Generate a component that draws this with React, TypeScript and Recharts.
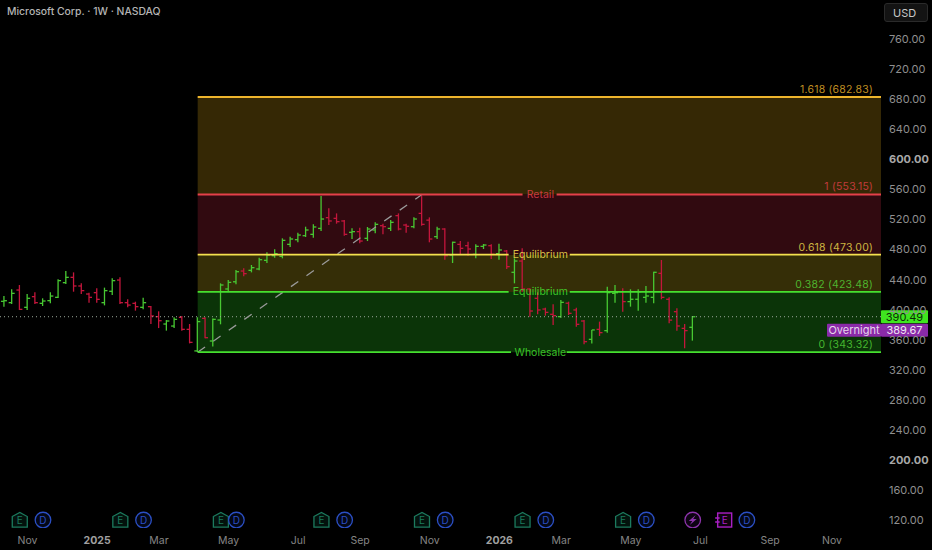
import React from 'react';
import { ComposedChart, Bar, Scatter, XAxis, YAxis, ReferenceArea, ReferenceLine, ReferenceDot } from 'recharts';

const opens = [411, 409.2, 426, 403, 417.2, 408.3, 411.9, 416.3, 435.8, 442.9, 431.4, 420.7, 422.5, 409.2, 424.3, 439.3, 409.2, 408.3, 403, 403.9, 390.6, 380.8, 378.1, 389.7, 373.7, 345, 388.3, 358.2, 386.1, 427.4, 437, 451.3, 452.2, 454, 465.5, 471.7, 470.8, 486.8, 493, 498.3, 500.1, 508, 522.3, 521.4, 517.9, 502.8, 503.7, 494.8, 505.9, 511.6, 508, 525, 512.5, 510.3, 528, 519, 497, 507.2, 472.6, 486.8, 485, 473.5, 484.1, 485, 474.4, 477.9, 449.6, 464.6, 427.4, 415, 400.7, 393.7, 390.6, 408.5, 399.5, 384.8, 360.4, 373.7, 372, 421.6, 423.9, 410.6, 413.7, 416.3, 416.3, 448.2, 413.7, 397.2, 375, 376.4];
const highs = [418.1, 427, 432.7, 420.7, 423, 415, 423, 440.2, 451.3, 449.5, 434.9, 422.5, 428.3, 429.2, 441.6, 442.9, 413.6, 410.5, 415.8, 404.8, 397.7, 386.1, 389.7, 391.5, 380.8, 389.7, 389.7, 388.3, 434.9, 439.4, 452.7, 454.9, 459.3, 469, 476.2, 480.2, 494.8, 497, 502.3, 510.3, 513.4, 551, 534.7, 528, 519.2, 508.1, 509, 509.9, 516.1, 514.3, 519.2, 528, 514.3, 522.7, 551, 522.7, 510.3, 508.1, 490.4, 491.2, 490.4, 486.8, 487.3, 486.8, 487.7, 479.3, 468.2, 481.5, 428.3, 423, 402.5, 407, 412.7, 410.5, 402.5, 386.1, 372.9, 384, 430.5, 432.7, 428.3, 427, 427, 431.4, 450.5, 466, 416.3, 401.7, 380.8, 391.5];
const lows = [403.9, 407.4, 399.4, 399.4, 407.4, 404.8, 408.3, 415.4, 434, 423.8, 420.7, 409.2, 409.2, 405.6, 419.4, 407.4, 403, 398.6, 400.3, 380.8, 375.4, 372, 375.4, 372, 355, 343.6, 361.7, 351, 380.4, 424.7, 433.6, 444.2, 449.5, 452.2, 462, 469, 468.2, 483.3, 489.5, 496.6, 495.7, 504.5, 512.5, 514.3, 498.3, 493.9, 488.1, 491.2, 501.4, 500.1, 504.5, 505.4, 502.3, 508.1, 511.6, 489.5, 493.9, 466.4, 462, 472.6, 471.7, 468.2, 480.6, 467.3, 466.4, 454, 434.9, 423.8, 390.6, 393.7, 391.9, 379.5, 389.2, 392.8, 377.3, 353.8, 355, 364.9, 369.3, 409.2, 397.2, 403.9, 398.6, 409.2, 408.3, 413.7, 381.7, 372, 348.5, 358.7];
const closes = [411.8, 421.6, 400.3, 415, 409.2, 411.4, 418, 438.5, 442.9, 431.4, 425.2, 416.3, 413.6, 425.2, 438.5, 409.2, 406, 403.9, 409.2, 391.5, 385.2, 384.8, 387, 373.7, 356.4, 384, 362.6, 387, 432.7, 436.2, 450.4, 447.8, 455.8, 466.4, 472.6, 474.4, 492.1, 493.9, 499.2, 505.9, 509.9, 520.5, 517.9, 517, 500.1, 503.7, 491.2, 507.2, 513.4, 510.3, 516.1, 507.2, 510.8, 520.5, 513.4, 493.9, 507.2, 471.7, 489.5, 481.5, 480.6, 484.1, 485.9, 473.5, 479.3, 457.1, 464.6, 427.4, 398.1, 399.5, 396.3, 391.9, 409.6, 395, 380.4, 357.3, 372.9, 369.3, 422.5, 422.5, 410.6, 413.7, 423.9, 418.1, 449.6, 416.3, 386, 378.2, 372, 390.49];

const priceTicks = [120, 160, 200, 240, 280, 320, 360, 400, 440, 480, 520, 560, 600, 640, 680, 720, 760];
const boldPrices = [200, 600];
const timeTicks = [3, 12, 20, 29, 38, 46, 55, 64, 72, 81, 90, 99, 107];
const timeLabels = ['Nov', '2025', 'Mar', 'May', 'Jul', 'Sep', 'Nov', '2026', 'Mar', 'May', 'Jul', 'Sep', 'Nov'];
const boldTimes = ['2025', '2026'];

const earningsWeeks = [2, 15, 28, 41, 54, 67, 80];
const dividendWeeks = [5, 18, 30, 44, 57, 70, 83, 96];
const splitWeeks = [89];
const upcomingEarningsWeeks = [93];

const FIB_START = 25;
const X_MIN = -0.556;
const X_MAX = 113.34;
const MARKER_PRICE = 120;
const LAST_PRICE = 390.49;

const FONT = 'Inter, Roboto, sans-serif';
const UP = '#48c832';
const DOWN = '#c4163c';

const bars = opens.map((open, i) => ({
  i,
  open,
  high: highs[i],
  low: lows[i],
  close: closes[i],
  range: [lows[i], highs[i]],
}));

const OhlcBar = (props: any) => {
  const { x, y, width, height, payload } = props;
  const cx = x + width / 2;
  const span = payload.high - payload.low;
  const openY = y + ((payload.high - payload.open) / span) * height;
  const closeY = y + ((payload.high - payload.close) / span) * height;
  const color = payload.close >= payload.open ? UP : DOWN;
  return (
    <g stroke={color} strokeWidth={1.3}>
      <line x1={cx} x2={cx} y1={y} y2={y + height} />
      <line x1={cx - 3} x2={cx} y1={openY} y2={openY} />
      <line x1={cx} x2={cx + 3} y1={closeY} y2={closeY} />
    </g>
  );
};

const markerLetter = (cx: number, cy: number, letter: string, color: string) => (
  <text x={cx} y={cy + 3.5} textAnchor="middle" fontSize={10} fontFamily={FONT} fill={color}>{letter}</text>
);

const EarningsMark = ({ cx, cy }: any) => (
  <g>
    <path
      d={`M${cx - 7.5} ${cy - 3.5} L${cx} ${cy - 7.5} L${cx + 7.5} ${cy - 3.5} V${cy + 7} H${cx - 7.5} Z`}
      fill="#03120d"
      stroke="#1c7a5e"
      strokeWidth={1.3}
    />
    {markerLetter(cx, cy + 0.5, 'E', '#1c7a5e')}
  </g>
);

const DividendMark = ({ cx, cy }: any) => (
  <g>
    <circle cx={cx} cy={cy} r={7.8} fill="#040816" stroke="#2b4fc4" strokeWidth={1.3} />
    {markerLetter(cx, cy, 'D', '#2b4fc4')}
  </g>
);

const SplitMark = ({ cx, cy }: any) => (
  <g>
    <circle cx={cx} cy={cy} r={7.8} fill="#0d0412" stroke="#8d34ab" strokeWidth={1.3} />
    <path d={`M${cx + 3} ${cy - 5} L${cx - 4} ${cy + 1} H${cx - 0.5} L${cx - 3} ${cy + 5} L${cx + 4} ${cy - 1} H${cx + 0.5} Z`} fill="#8d34ab" />
  </g>
);

const UpcomingEarningsMark = ({ cx, cy }: any) => (
  <g>
    <rect x={cx - 6} y={cy - 7} width={14} height={14} fill="#10030f" stroke="#a91fc4" strokeWidth={1.4} />
    <path d={`M${cx - 8.5} ${cy - 2} H${cx - 4} M${cx - 8.5} ${cy + 2} H${cx - 4}`} stroke="#a91fc4" strokeWidth={1.4} />
    {markerLetter(cx + 1, cy, 'E', '#a91fc4')}
  </g>
);

const PriceTick = ({ x, y, payload }: any) => (
  <text
    x={x}
    y={y + 4}
    textAnchor="start"
    fontSize={11}
    fontFamily={FONT}
    fontWeight={boldPrices.includes(payload.value) ? 700 : 400}
    fill={boldPrices.includes(payload.value) ? '#a8a8a8' : '#8f8f8f'}
  >
    {payload.value.toFixed(2)}
  </text>
);

const TimeTick = ({ x, y, payload }: any) => {
  const label = timeLabels[timeTicks.indexOf(payload.value)];
  const bold = boldTimes.includes(label);
  return (
    <text x={x} y={y + 8} textAnchor="middle" fontSize={10.5} fontFamily={FONT} fontWeight={bold ? 700 : 400} fill={bold ? '#a0a0a0' : '#858585'}>
      {label}
    </text>
  );
};

const FibSide = (level: number, color: string, text: string) => (
  <ReferenceDot
    key={text}
    x={X_MAX}
    y={level}
    r={0}
    shape={({ cx, cy }: any) => (
      <text x={cx - 8} y={cy - 4} textAnchor="end" fontSize={10.5} fontFamily={FONT} fill={color} fillOpacity={0.8} letterSpacing={0.2}>
        {text}
      </text>
    )}
  />
);

const FibCenter = (level: number, color: string, text: string, from: number, to: number) => [
  <ReferenceLine key={text + level + 'a'} segment={[{ x: FIB_START, y: level }, { x: from, y: level }]} stroke={color} strokeWidth={1.8} />,
  <ReferenceLine key={text + level + 'b'} segment={[{ x: to, y: level }, { x: X_MAX, y: level }]} stroke={color} strokeWidth={1.8} />,
  <ReferenceDot
    key={text + level + 'c'}
    x={69.3}
    y={level}
    r={0}
    shape={({ cx, cy }: any) => (
      <text x={cx} y={cy + 3.5} textAnchor="middle" fontSize={10.5} fontFamily={FONT} fill={color} fillOpacity={0.85}>
        {text}
      </text>
    )}
  />,
];

const PriceTag = ({ cx, cy }: any) => (
  <g fontFamily={FONT} fontSize={11}>
    <rect x={cx} y={cy - 6.5} width={47} height={13} rx={1} fill="#3fe51f" />
    <text x={cx + 23.5} y={cy + 4} textAnchor="middle" fill="#0b2a06">390.49</text>
    <rect x={cx - 54} y={cy + 7} width={54} height={13} rx={1} fill="#8a2aa8" />
    <text x={cx - 27} y={cy + 17} textAnchor="middle" fill="#e6d6ec">Overnight</text>
    <rect x={cx} y={cy + 7} width={47} height={13} rx={1} fill="#8a2aa8" />
    <text x={cx + 23.5} y={cy + 17} textAnchor="middle" fill="#f0e4f4">389.67</text>
  </g>
);

export default function App() {
  return (
    <div style={{ position: 'fixed', left: 0, top: 0, width: 932, height: 550, background: '#000', overflow: 'hidden' }}>
      <ComposedChart width={932} height={550} data={bars} margin={{ top: 0, right: 0, bottom: 0, left: 0 }}>
        <XAxis
          dataKey="i"
          type="number"
          domain={[X_MIN, X_MAX]}
          allowDataOverflow
          ticks={timeTicks}
          interval={0}
          height={22}
          axisLine={false}
          tickLine={false}
          tick={TimeTick}
        />
        <YAxis
          orientation="right"
          type="number"
          domain={[109.4, 811.9]}
          allowDataOverflow
          ticks={priceTicks}
          interval={0}
          width={51}
          axisLine={false}
          tickLine={false}
          tick={PriceTick}
        />

        <ReferenceArea x1={FIB_START} x2={X_MAX} y1={343.32} y2={423.48} fill="#0b3408" fillOpacity={1} stroke="none" />
        <ReferenceArea x1={FIB_START} x2={X_MAX} y1={423.48} y2={473} fill="#352e07" fillOpacity={1} stroke="none" />
        <ReferenceArea x1={FIB_START} x2={X_MAX} y1={473} y2={553.15} fill="#310a10" fillOpacity={1} stroke="none" />
        <ReferenceArea x1={FIB_START} x2={X_MAX} y1={553.15} y2={682.83} fill="#352805" fillOpacity={1} stroke="none" />

        <ReferenceLine
          segment={[{ x: X_MIN, y: LAST_PRICE }, { x: X_MAX, y: LAST_PRICE }]}
          stroke="#9aa89a"
          strokeDasharray="1 3"
        />
        <ReferenceLine
          segment={[{ x: FIB_START, y: 343.32 }, { x: 54, y: 553.15 }]}
          stroke="#9a9a9a"
          strokeWidth={1.3}
          strokeDasharray="9 10"
        />
        <ReferenceLine segment={[{ x: FIB_START, y: 682.83 }, { x: X_MAX, y: 682.83 }]} stroke="#eeb52c" strokeWidth={1.8} />

        {FibCenter(553.15, '#e5404a', 'Retail', 67, 71.4)}
        {FibCenter(473, '#f5e14f', 'Equilibrium', 65.2, 73.1)}
        {FibCenter(423.48, '#46e02f', 'Equilibrium', 65.2, 73.1)}
        {FibCenter(343.32, '#46e02f', 'Wholesale', 65.5, 72.7)}

        {FibSide(682.83, '#eeb52c', '1.618 (682.83)')}
        {FibSide(553.15, '#e5404a', '1 (553.15)')}
        {FibSide(473, '#f5e14f', '0.618 (473.00)')}
        {FibSide(423.48, '#56d83a', '0.382 (423.48)')}
        {FibSide(343.32, '#56d83a', '0 (343.32)')}

        <Bar dataKey="range" barSize={7} shape={OhlcBar} isAnimationActive={false} />

        <Scatter data={earningsWeeks.map(i => ({ i, y: MARKER_PRICE }))} dataKey="y" shape={EarningsMark} isAnimationActive={false} />
        <Scatter data={dividendWeeks.map(i => ({ i, y: MARKER_PRICE }))} dataKey="y" shape={DividendMark} isAnimationActive={false} />
        <Scatter data={splitWeeks.map(i => ({ i, y: MARKER_PRICE }))} dataKey="y" shape={SplitMark} isAnimationActive={false} />
        <Scatter data={upcomingEarningsWeeks.map(i => ({ i, y: MARKER_PRICE }))} dataKey="y" shape={UpcomingEarningsMark} isAnimationActive={false} />

        <ReferenceDot x={X_MAX} y={LAST_PRICE} r={0} shape={PriceTag} />
      </ComposedChart>

      <div style={{ position: 'absolute', left: 7, top: 5, fontFamily: FONT, fontSize: 10.4, lineHeight: '14px', fontWeight: 500, color: '#b4b4b4' }}>
        Microsoft Corp. · 1W · NASDAQ
      </div>
      <div style={{ position: 'absolute', left: 884, top: 3, width: 44, height: 19, boxSizing: 'border-box', paddingLeft: 8, lineHeight: '18px', background: '#131313', border: '1px solid #2a2a2a', borderRadius: 3, fontFamily: FONT, fontSize: 11, color: '#c8c8c8' }}>
        USD
      </div>
    </div>
  );
}
